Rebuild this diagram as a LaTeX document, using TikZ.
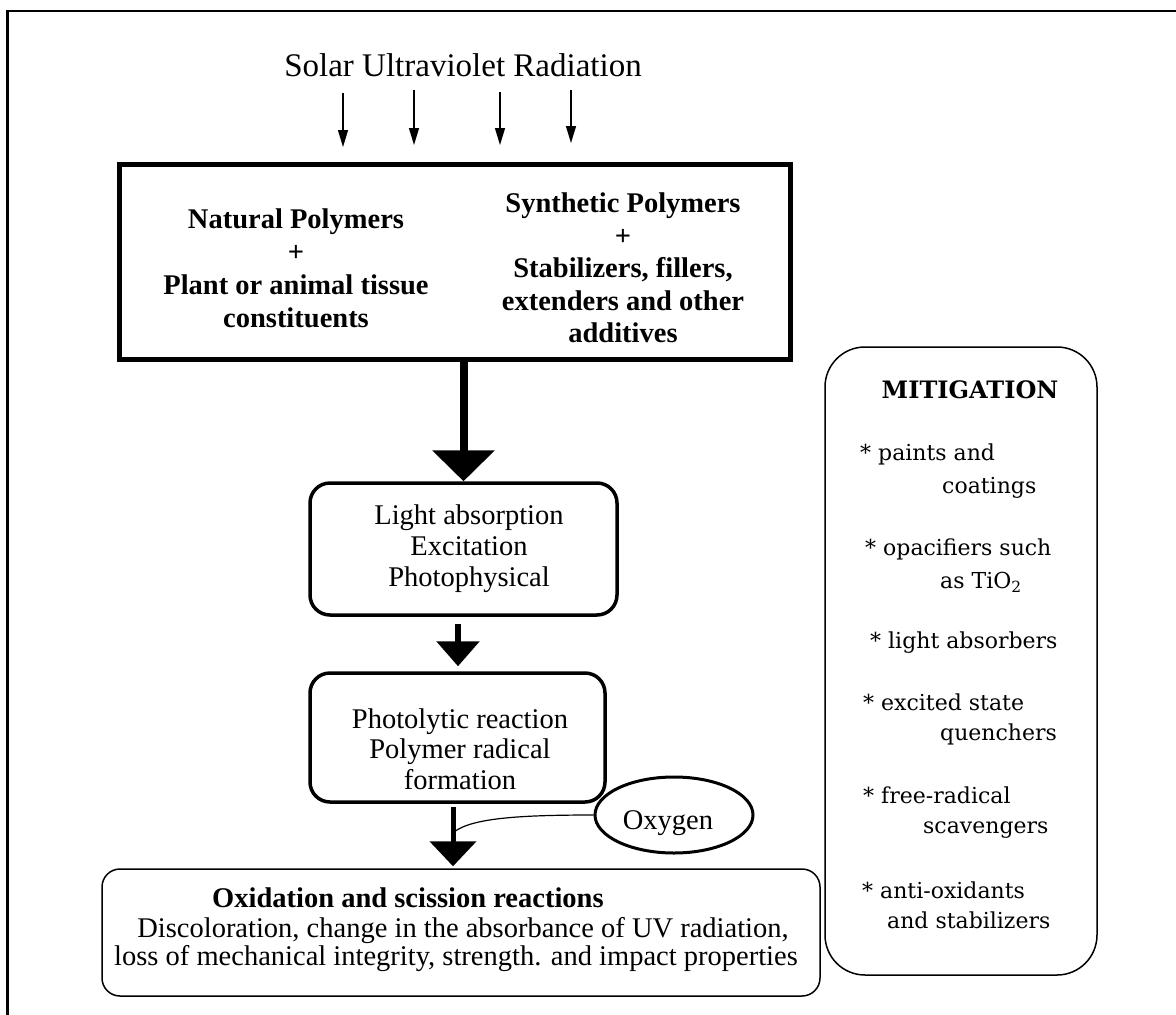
\documentclass[tikz,border=0pt]{standalone}
\usepackage{fontspec}
\setmainfont{Liberation Serif}
\newfontfamily\mitfont{DejaVu Serif}
\usetikzlibrary{arrows.meta,shapes.geometric}
\begin{document}
\begin{tikzpicture}[x=1pt,y=-1pt,
  txt/.style={inner sep=0pt, align=center, font=\fontsize{28.5}{33}\selectfont},
  btxt/.style={inner sep=0pt, align=center, font=\fontsize{28.5}{33}\selectfont\bfseries},
  line/.style={inner sep=0pt, text height=20pt, text depth=6pt},
  proc/.style={draw, line width=3.5pt, rounded corners=20pt, inner sep=0pt},
  mit/.style={inner sep=0pt, anchor=west, font=\mitfont\fontsize{22}{26}\selectfont, text height=16pt, text depth=4pt},
  uv/.style={line width=1.3pt, -{Triangle[width=10pt,length=17pt]}},
  bigarr/.style={line width=8pt, -{Triangle[width=61pt,length=31pt]}},
  midarr/.style={line width=6pt, -{Triangle[width=42pt,length=25pt]}},
  smallarr/.style={line width=5pt, -{Triangle[width=46pt,length=25pt]}}
]
\useasboundingbox (0,0) rectangle (1176,1015);
% outer frame
\draw[line width=2.2pt] (7.5,1015) -- (7.5,11) -- (1176,11);

% title and UV arrows
\node[inner sep=0pt, font=\fontsize{33}{38}\selectfont] (title) at (463,65) {Solar Ultraviolet Radiation};
\coordinate (u1s) at (343,93);  \coordinate (u1e) at (343,147);
\coordinate (u2s) at (414,90);  \coordinate (u2e) at (414,145);
\coordinate (u3s) at (500,92);  \coordinate (u3e) at (500,145);
\coordinate (u4s) at (571,90);  \coordinate (u4e) at (571,143);
\draw[uv] (u1s) -- (u1e);
\draw[uv] (u2s) -- (u2e);
\draw[uv] (u3s) -- (u3e);
\draw[uv] (u4s) -- (u4e);

% top box
\node[draw, line width=5pt, minimum width=671pt, minimum height=195pt, inner sep=0pt, outer sep=0pt] (top) at (455,262) {};
\node[btxt] (nat) at (296,268) {Natural Polymers\\+\\Plant or animal tissue\\constituents};
\node[btxt, font=\fontsize{28.5}{32.5}\selectfont\bfseries] (syn) at (623,268) {Synthetic Polymers\\+\\Stabilizers, fillers,\\extenders and other\\additives};

% light absorption box
\node[proc, minimum width=307pt, minimum height=132pt] (light) at (463.5,549) {};
\node[txt, font=\fontsize{28.5}{31}\selectfont] (lighttxt) at (469,549) {Light absorption\\Excitation\\Photophysical};

% photolytic box
\node[proc, minimum width=295pt, minimum height=129pt] (photo) at (457.5,737.5) {};
\node[txt, font=\fontsize{28.5}{30.5}\selectfont] (phototxt) at (460,749) {Photolytic reaction\\Polymer radical\\formation};

% result box
\node[draw, line width=1.5pt, rounded corners=18pt, minimum width=718pt, minimum height=127pt, inner sep=0pt] (res) at (461,932.5) {};
\node[line, anchor=west, font=\fontsize{28.5}{33}\selectfont\bfseries] (res1) at (212,900) {Oxidation and scission reactions};
\node[line, font=\fontsize{28.5}{33}\selectfont] (res2) at (463,930) {Discoloration, change in the absorbance of UV radiation,};
\node[line, font=\fontsize{28.5}{33}\selectfont] (res3) at (456,958) {loss of mechanical integrity, strength. and impact properties};

% oxygen
\node[draw, ellipse, line width=3pt, minimum width=158pt, minimum height=76pt, inner sep=0pt] (oxy) at (674,815) {};
\node[line, font=\fontsize{28.5}{33}\selectfont] (oxytxt) at (668,822) {Oxygen};

% flow arrows
\draw[bigarr] (top.south -| light.north) -- (light.north);
\draw[midarr] ([xshift=-5.5pt,yshift=-7pt]light.south) -- ([xshift=0.5pt,yshift=5pt]photo.north);
\draw[smallarr] ([xshift=-4.5pt,yshift=-3pt]photo.south) -- ([xshift=-8pt,yshift=2pt]res.north);
\coordinate (join) at (454,832);
\draw[line width=1.2pt] (oxy.west) .. controls (520,815) and (472,818) .. (join);

% mitigation
\node[draw, line width=1.5pt, rounded corners=40pt, minimum width=272pt, minimum height=628pt, inner sep=0pt] (mitbox) at (961,661) {};
\node[inner sep=0pt, font=\mitfont\bfseries\fontsize{24}{28}\selectfont] (mittitle) at (970,390) {MITIGATION};
\node[mit] (m1a) at (860,454) {* paints and};
\node[mit] (m1b) at (942,487) {coatings};
\node[mit] (m2a) at (865,549) {* opacifiers such};
\node[mit] (m2b) at (940,582) {as TiO\textsubscript{2}};
\node[mit] (m3) at (870,642) {* light absorbers};
\node[mit] (m4a) at (863,704) {* excited state};
\node[mit] (m4b) at (940,734) {quenchers};
\node[mit] (m5a) at (863,797) {* free-radical};
\node[mit] (m5b) at (923,827) {scavengers};
\node[mit] (m6a) at (862,892) {* anti-oxidants};
\node[mit] (m6b) at (887,922) {and stabilizers};
\end{tikzpicture}
\end{document}
